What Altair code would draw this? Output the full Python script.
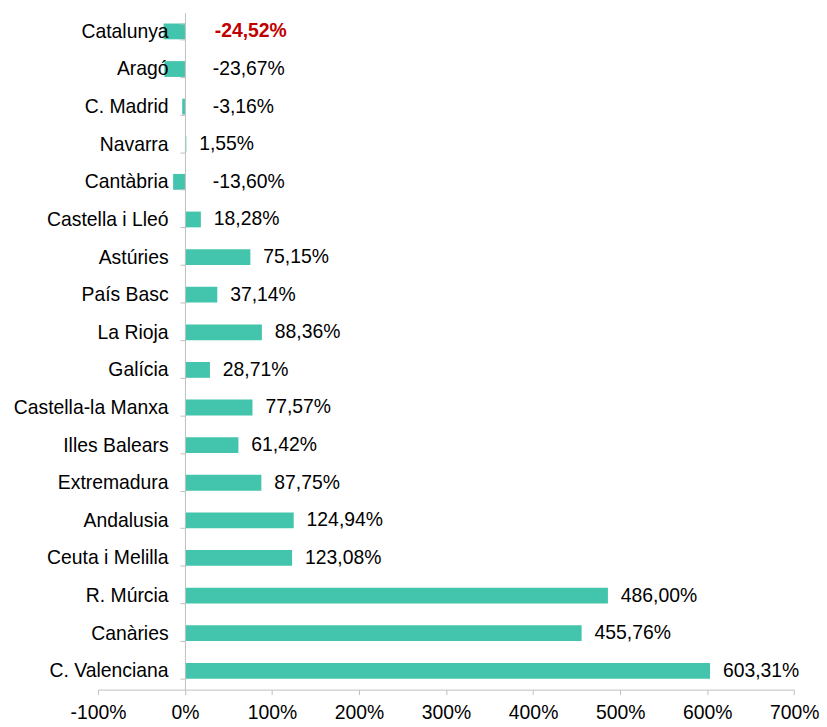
import altair as alt
import pandas as pd

regions = ["Catalunya", "Aragó", "C. Madrid", "Navarra", "Cantàbria", "Castella i Lleó",
           "Astúries", "País Basc", "La Rioja", "Galícia", "Castella-la Manxa",
           "Illes Balears", "Extremadura", "Andalusia", "Ceuta i Melilla", "R. Múrcia",
           "Canàries", "C. Valenciana"]
values = [-24.52, -23.67, -3.16, 1.55, -13.60, 18.28, 75.15, 37.14, 88.36, 28.71, 77.57,
          61.42, 87.75, 124.94, 123.08, 486.00, 455.76, 603.31]
highlight = ["Catalunya"]
x_ticks = [-100, 0, 100, 200, 300, 400, 500, 600, 700]

df = pd.DataFrame({"region": regions, "value": values})
df["label"] = [f"{v:.2f}".replace(".", ",") + "%" for v in values]
df["pos"] = df["value"].clip(lower=0)
df["hl"] = df["region"].isin(highlight)

FONT = "Liberation Sans"
FS = 19.5
PLOT_W = 701.4
PLOT_H = 682
zero_px = PLOT_W * 100 / 800

xscale = alt.Scale(domain=[-100, 700], nice=False, zero=False)
yenc = alt.Y("region:N", sort=regions,
             scale=alt.Scale(paddingInner=0.58, paddingOuter=0.29),
             axis=alt.Axis(title=None, offset=-zero_px, tickBand="extent",
                           domainColor="#BFBFBF", tickColor="#BFBFBF", tickSize=5,
                           labelFont=FONT, labelFontSize=FS, labelColor="#000000",
                           labelPadding=12, zindex=1))

base = alt.Chart(df)

bars = base.mark_bar(color="#43C4AD").encode(
    x=alt.X("value:Q", scale=xscale,
            axis=alt.Axis(title=None, values=x_ticks, labelExpr="datum.value + '%'",
                          grid=False, domainColor="#BFBFBF", tickColor="#BFBFBF",
                          tickSize=5, labelFont=FONT, labelFontSize=FS,
                          labelColor="#000000", labelPadding=9, labelFlush=False,
                          labelOverlap=False, zindex=1)),
    y=yenc,
)

pos_labels = base.transform_filter("datum.value >= 0").mark_text(
    align="left", baseline="middle", dx=13, font=FONT, fontSize=FS, color="#000000"
).encode(x=alt.X("pos:Q", scale=xscale), y=alt.Y("region:N", sort=regions), text="label:N")

neg_labels = base.transform_filter("datum.value < 0 && !datum.hl").mark_text(
    align="left", baseline="middle", dx=28, font=FONT, fontSize=FS, color="#000000"
).encode(x=alt.X("pos:Q", scale=xscale), y=alt.Y("region:N", sort=regions), text="label:N")

hl_labels = base.transform_filter("datum.hl").mark_text(
    align="left", baseline="middle", dx=30, font=FONT, fontSize=FS, fontWeight="bold",
    color="#C00000"
).encode(x=alt.X("pos:Q", scale=xscale), y=alt.Y("region:N", sort=regions), text="label:N")

chart = alt.layer(bars, pos_labels, neg_labels, hl_labels).properties(
    width=PLOT_W, height=PLOT_H,
    autosize=alt.AutoSizeParams(type="none"),
    padding={"left": 90.6, "top": 2, "right": 25, "bottom": 30},
).configure_view(stroke=None)

chart.save("out.html", embed_options={"renderer": "svg", "actions": False})
